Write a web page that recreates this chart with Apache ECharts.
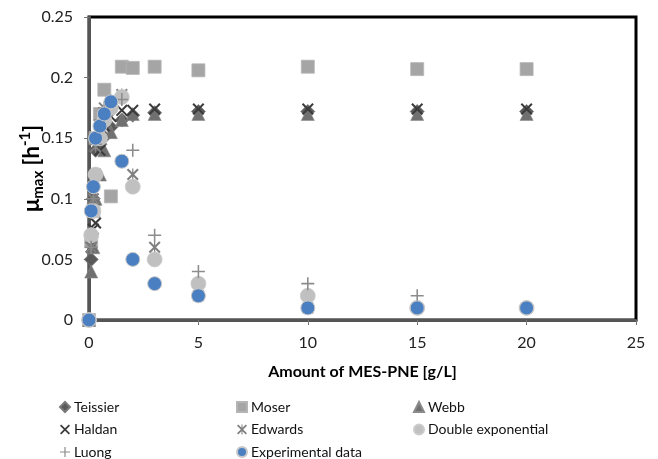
<!DOCTYPE html>
<html>
<head>
<meta charset="utf-8">
<script src="https://cdn.jsdelivr.net/npm/echarts@6/dist/echarts.min.js"></script>
<style>
html,body{margin:0;padding:0;background:#fff;}
#chart{width:658px;height:459px;}
</style>
</head>
<body>
<div id="chart"></div>
<script>
// Substrate concentration (g/L) shared by all series
const xValues = [0, 0.1, 0.2, 0.3, 0.5, 0.7, 1, 1.5, 2, 3, 5, 10, 15, 20];

const teissier     = [0, 0.05, 0.10, 0.14, 0.145, 0.151, 0.159, 0.165, 0.169, 0.171, 0.172, 0.172, 0.172, 0.172];
const moser        = [0, 0.065, 0.09, 0.15, 0.17, 0.19, 0.102, 0.209, 0.208, 0.209, 0.206, 0.209, 0.207, 0.207];
const webb         = [0, 0.04, 0.06, 0.10, 0.12, 0.14, 0.155, 0.165, 0.17, 0.17, 0.17, 0.17, 0.17, 0.17];
const haldan       = [0, 0.06, 0.075, 0.08, 0.14, 0.16, 0.168, 0.173, 0.173, 0.174, 0.174, 0.174, 0.174, 0.174];
const edwards      = [0, 0.06, 0.10, 0.143, 0.16, 0.175, 0.18, 0.186, 0.12, 0.06, 0.02, 0.01, 0.01, 0.01];
const doubleExp    = [0, 0.07, 0.09, 0.12, 0.15, 0.165, 0.175, 0.184, 0.11, 0.05, 0.03, 0.02, 0.01, 0.01];
const luong        = [0, 0.06, 0.10, 0.145, 0.165, 0.175, 0.18, 0.182, 0.14, 0.07, 0.04, 0.03, 0.02, 0.01];
const experimental = [0, 0.09, 0.11, 0.15, 0.16, 0.17, 0.18, 0.131, 0.05, 0.03, 0.02, 0.01, 0.01, 0.01];

const xTicks = [0, 5, 10, 15, 20, 25];
const yTicks = [0, 0.05, 0.1, 0.15, 0.2, 0.25];

const X_PATH = 'path://M0,0.12 L0.12,0 L0.5,0.38 L0.88,0 L1,0.12 L0.62,0.5 L1,0.88 L0.88,1 L0.5,0.62 L0.12,1 L0,0.88 L0.38,0.5 Z';
const PLUS_PATH = 'path://M0.44,0 L0.56,0 L0.56,0.44 L1,0.44 L1,0.56 L0.56,0.56 L0.56,1 L0.44,1 L0.44,0.56 L0,0.56 L0,0.44 L0.44,0.44 Z';
const AST_PATH = 'path://M0,0.12 L0.12,0 L0.5,0.38 L0.88,0 L1,0.12 L0.62,0.5 L1,0.88 L0.88,1 L0.5,0.62 L0.12,1 L0,0.88 L0.38,0.5 Z M0.45,0 L0.55,0 L0.55,1 L0.45,1 Z';

function pairs(ys){ return xValues.map((x,i)=>[x, ys[i]]); }

const FONT = 'Lato';

function mk(name, data, symbol, size, color, border, bw){
  return {
    name, type:'scatter', data: pairs(data), symbol, symbolSize: size,
    itemStyle:{color, borderColor: border || color, borderWidth: bw || 0, opacity:1},
    emphasis:{disabled:true}
  };
}

const series = [
  mk('Teissier', teissier, 'diamond', 14, '#595959', '#7a7a7a', 0.8),
  mk('Moser', moser, 'rect', 13, '#a5a5a5', '#b5b5b5', 0.8),
  mk('Webb', webb, 'triangle', 13, '#707070', '#8a8a8a', 0.6),
  mk('Haldan', haldan, X_PATH, 12, '#3a3a3a'),
  mk('Edwards', edwards, AST_PATH, 12, '#808080'),
  mk('Double exponential', doubleExp, 'circle', 15, '#c0c0c0', '#cccccc', 0.8),
  mk('Luong', luong, PLUS_PATH, 13, '#8c8c8c'),
  mk('Experimental data', experimental, 'circle', 14, '#4a7fc1', '#c8c8c8', 1)
];

const legendCommon = {
  orient:'vertical', itemGap: 6.5, itemWidth: 10, itemHeight: 10, height: 100,
  textStyle:{fontFamily: FONT, fontSize: 14, color:'#111', lineHeight:16, padding:[0,0,0,-1]}
};

const chart = echarts.init(document.getElementById('chart'), null, {renderer:'canvas'});
chart.setOption({
  animation:false,
  backgroundColor:'#fff',
  grid:{left:89, right:22, top:17, bottom:139, show:true, borderColor:'#000', borderWidth:3,
        containLabel:false, outerBoundsMode:'none'},
  xAxis:{
    type:'value', min:xTicks[0], max:xTicks[xTicks.length-1], interval:5,
    name:'Amount of MES-PNE [g/L]', nameLocation:'middle', nameGap:44, nameMoveOverlap:false,
    nameTextStyle:{fontFamily:FONT, fontSize:16, fontWeight:'bold', color:'#000'},
    axisLine:{show:true, lineStyle:{color:'#555', width:3}},
    axisTick:{show:true, length:5, lineStyle:{color:'#777', width:1}},
    axisLabel:{fontFamily:FONT, fontSize:16, color:'#222', margin:15},
    splitLine:{show:false}
  },
  yAxis:{
    type:'value', min:yTicks[0], max:yTicks[yTicks.length-1], interval:0.05,
    name:'μ{sub|max} [h{sup|-1}]', nameLocation:'middle', nameGap:43, nameRotate:90, nameMoveOverlap:false,
    nameTextStyle:{fontFamily:FONT, fontSize:22, fontWeight:'bold', color:'#000', lineHeight:28,
      rich:{
        sub:{fontFamily:FONT, fontSize:15, fontWeight:'bold', color:'#000', verticalAlign:'bottom', lineHeight:16},
        sup:{fontFamily:FONT, fontSize:15, fontWeight:'bold', color:'#000', verticalAlign:'top', lineHeight:16}
      }},
    axisLine:{show:true, lineStyle:{color:'#555', width:3}},
    axisTick:{show:true, length:5, lineStyle:{color:'#777', width:1}},
    axisLabel:{fontFamily:FONT, fontSize:16, color:'#222', margin:16},
    splitLine:{show:false}
  },
  legend:[
    Object.assign({}, legendCommon, {left:54, top:394, data:['Teissier','Haldan','Luong']}),
    Object.assign({}, legendCommon, {left:231, top:394, data:['Moser','Edwards','Experimental data']}),
    Object.assign({}, legendCommon, {left:408, top:394, data:['Webb','Double exponential']})
  ],
  series
});
</script>
</body>
</html>
